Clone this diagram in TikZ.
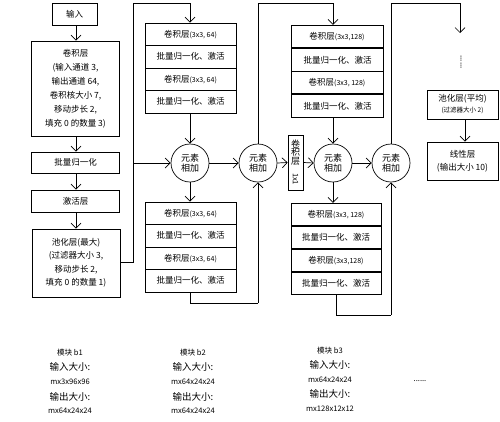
\documentclass[tikz,border=0pt]{standalone}
\usepackage{fontspec}
\usepackage{graphicx}
\setmainfont{Noto Sans CJK SC}
\usetikzlibrary{arrows.meta}
\begin{document}
\begin{tikzpicture}[x=1pt,y=-1pt,
  line width=0.7pt,
  >={Straight Barb[length=5pt,width=10pt]},
  box/.style={draw, inner sep=0pt, align=center, font=\fontsize{8.5}{14}\selectfont},
  rowbox/.style={draw, inner sep=0pt, minimum width=#1, minimum height=22.5pt, font=\fontsize{8.5}{10}\selectfont},
  rowbox/.default=91pt,
  circ/.style={draw, circle, minimum size=38pt, inner sep=0pt, align=center, font=\fontsize{9}{10}\selectfont},
  lbl/.style={inner sep=0pt, font=\fontsize{9.5}{11}\selectfont},
  lblsmall/.style={inner sep=0pt, font=\fontsize{7.6}{9}\selectfont},
  conn/.style={draw, ->}
]
\useasboundingbox (0,0) rectangle (500,421);
\newcommand{\ps}[1]{{\fontsize{7}{8}\selectfont #1}}
% ---- left column ----
\node[box, minimum width=45pt, minimum height=22pt] (in) at (74.5,14) {输入};
\node[box, minimum width=88pt, minimum height=95pt] (conv7) at (75.5,88.5)
  {卷积层\\(输入通道 3,\\输出通道 64,\\卷积核大小 7,\\移动步长 2,\\填充 0 的数量 3)};
\node[box, minimum width=88pt, minimum height=21pt] (bn) at (75.5,162.5) {批量归一化};
\node[box, minimum width=88pt, minimum height=22pt] (act) at (75.5,201) {激活层};
\node[box, minimum width=88pt, minimum height=68pt, font=\fontsize{8.5}{13.5}\selectfont] (pool) at (76,263)
  {池化层(最大)\\(过滤器大小 3,\\移动步长 2,\\填充 0 的数量 1)};
\draw[->] (in.south -| 76,0) -- (conv7.north -| 76,0);
\draw[->] (conv7.south -| 76,0) -- (bn.north -| 76,0);
\draw[->] (bn.south -| 76,0) -- (act.north -| 76,0);
\draw[->] (act.south -| 76,0) -- (pool.north -| 76,0);
% ---- block b2 ----
\node[rowbox] (a1) at (190.5,34.25) {卷积层\ps{(3x3, 64)}};
\node[rowbox] (a2) at (190.5,56.75) {批量归一化、激活};
\node[rowbox] (a3) at (190.5,79.25) {卷积层\ps{(3x3, 64)}};
\node[rowbox] (a4) at (190.5,101.75) {批量归一化、激活};
\node[circ] (c1) at (190,163) {元素\\相加};
\node[circ] (c2) at (258,163) {元素\\相加};
\node[rowbox] (b1) at (190.5,213.25) {卷积层\ps{(3x3, 64)}};
\node[rowbox] (b2) at (190.5,235.75) {批量归一化、激活};
\node[rowbox] (b3) at (190.5,258.25) {卷积层\ps{(3x3, 64)}};
\node[rowbox] (b4) at (190.5,280.75) {批量归一化、激活};
\coordinate (s1) at (133,262);
\coordinate (s2) at (133,3);
\coordinate (s3) at (190,3);
\coordinate (s4) at (133,163);
\draw (pool.east |- s1) -- (s1) -- (s2) -- (s3);
\draw[->] (s3) -- (a1.north -| s3);
\draw[->] (s4) -- (c1.west);
\draw[->] (a4.south -| c1) -- (c1.north);
\draw[->] (c1.east) -- (c2.west);
\draw[->] (c1.south) -- (b1.north -| c1);
\coordinate (t1) at (190,303);
\coordinate (t2) at (258,303);
\draw (b4.south -| t1) -- (t1) -- (t2);
\draw[->] (t2) -- (c2.south);
% ---- block b3 ----
\node[draw, inner sep=0pt, minimum width=15pt, minimum height=55pt, font=\fontsize{9}{10}\selectfont] (k1) at (295.5,162.5)
  {\begin{tabular}{@{}c@{}}卷\\[-2pt]积\\[-2pt]层\\[-1pt]\rotatebox{-90}{\fontsize{7.5}{8}\selectfont 1x1}\end{tabular}};
\node[rowbox=92pt] (d1) at (337,36.5) {卷积层\ps{(3x3,128)}};
\node[rowbox=92pt] (d2) at (337.5,60) {批量归一化、激活};
\node[rowbox=92pt] (d3) at (337,82.5) {卷积层\ps{(3x3, 128)}};
\node[rowbox=92pt] (d4) at (337.5,106) {批量归一化、激活};
\node[circ] (c3) at (333,163) {元素\\相加};
\node[circ] (c4) at (391,163) {元素\\相加};
\node[rowbox=90pt] (e1) at (336,214.5) {卷积层\ps{(3x3, 128)}};
\node[rowbox=90pt] (e2) at (336,237.5) {批量归一化、激活};
\node[rowbox=90pt] (e3) at (336,260.5) {卷积层\ps{(3x3,128)}};
\node[rowbox=90pt] (e4) at (336,283.5) {批量归一化、激活};
\coordinate (u1) at (258,3);
\coordinate (u2) at (333,3);
\draw (c2.north) -- (u1) -- (u2);
\draw[->] (u2) -- (d1.north -| u2);
\draw[->] (c2.east) -- (k1.west);
\draw[->] (k1.east) -- (c3.west);
\draw[->] (d4.south -| c3) -- (c3.north);
\draw[->] (c3.east) -- (c4.west);
\draw[->] (c3.south) -- (e1.north -| c3);
\coordinate (v1) at (336,315);
\coordinate (v2) at (391,315);
\draw (e4.south -| v1) -- (v1) -- (v2);
\draw[->] (v2) -- (c4.south);
% ---- right column ----
\coordinate (w1) at (391,3);
\coordinate (w2) at (460,3);
\coordinate (w3) at (460,33);
\draw (c4.north) -- (w1) -- (w2);
\draw[->] (w2) -- (w3);
\node[inner sep=0pt, rotate=-90, font=\fontsize{8}{9}\selectfont] (dots1) at (461,62) {......};
\node[box, minimum width=71pt, minimum height=29pt, font=\fontsize{8.5}{11}\selectfont] (pavg) at (462.5,104.5)
  {池化层(平均)\\{\fontsize{6.5}{8}\selectfont (过滤器大小 2)}};
\node[box, minimum width=71pt, minimum height=38pt, font=\fontsize{8.5}{13}\selectfont] (lin) at (462.5,161)
  {线性层\\(输出大小 10)};
\draw[->] (pavg.south -| 465,0) -- (lin.north -| 465,0);
% ---- bottom texts ----
\node[lblsmall] (m1a) at (70,353) {模块 b1};
\node[lbl] (m1b) at (70,367) {输入大小:};
\node[lblsmall] (m1c) at (70,382) {mx3x96x96};
\node[lbl] (m1d) at (70,397) {输出大小:};
\node[lblsmall] (m1e) at (70,411) {mx64x24x24};
\node[lblsmall] (m2a) at (193,353) {模块 b2};
\node[lbl] (m2b) at (193,367) {输入大小:};
\node[lblsmall] (m2c) at (193,382) {mx64x24x24};
\node[lbl] (m2d) at (193,397) {输出大小:};
\node[lblsmall] (m2e) at (193,411) {mx64x24x24};
\node[lblsmall] (m3a) at (330,351) {模块 b3};
\node[lbl] (m3b) at (330,365) {输入大小:};
\node[lblsmall] (m3c) at (330,380) {mx64x24x24};
\node[lbl] (m3d) at (330,394) {输出大小:};
\node[lblsmall] (m3e) at (330,409) {mx128x12x12};
\node[lblsmall] (dots2) at (420,381) {......};
\end{tikzpicture}
\end{document}
